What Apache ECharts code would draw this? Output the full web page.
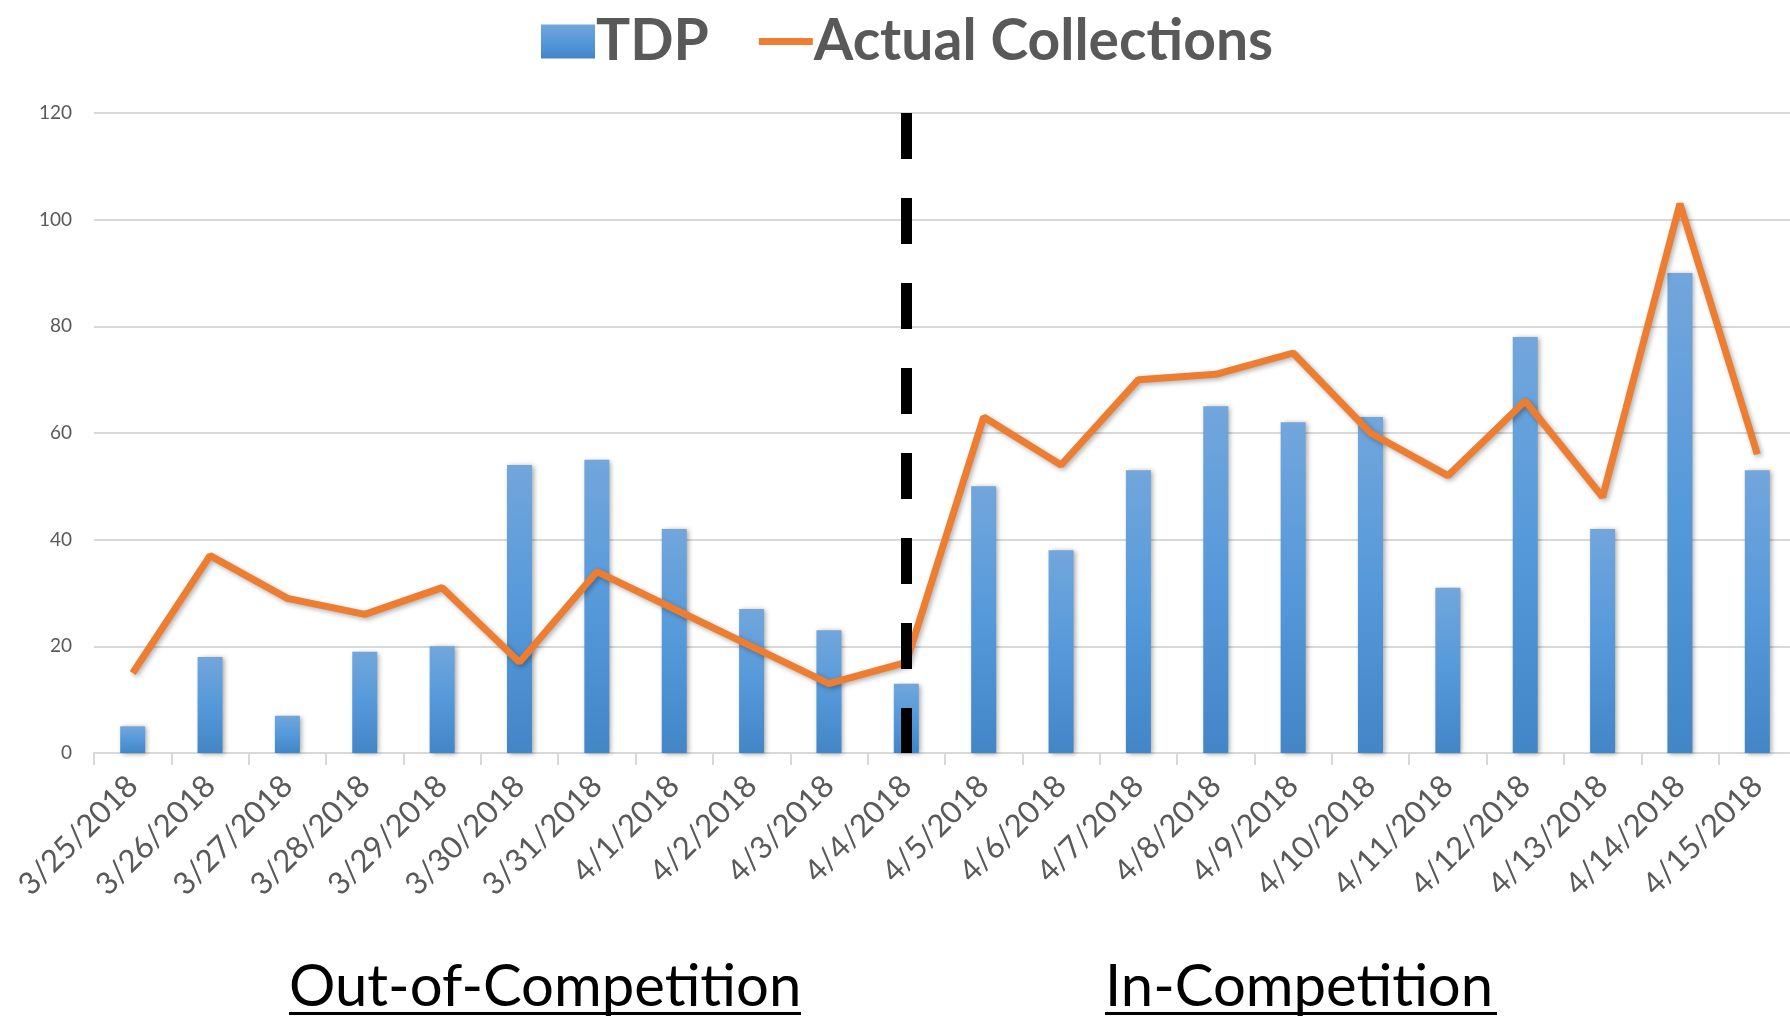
<!DOCTYPE html>
<html>
<head>
<meta charset="utf-8">
<script src="https://cdn.jsdelivr.net/npm/echarts@6/dist/echarts.min.js"></script>
<style>
  html, body { margin: 0; padding: 0; background: #fff; }
  #chart { width: 1790px; height: 1016px; }
</style>
</head>
<body>
<div id="chart"></div>
<script>
// categories (dates)
const dates = [
  '3/25/2018', '3/26/2018', '3/27/2018', '3/28/2018', '3/29/2018', '3/30/2018',
  '3/31/2018', '4/1/2018', '4/2/2018', '4/3/2018', '4/4/2018', '4/5/2018',
  '4/6/2018', '4/7/2018', '4/8/2018', '4/9/2018', '4/10/2018', '4/11/2018',
  '4/12/2018', '4/13/2018', '4/14/2018', '4/15/2018'
];

// TDP bars
const tdp = [5, 18, 7, 19, 20, 54, 55, 42, 27, 23, 13, 50, 38, 53, 65, 62, 63, 31, 78, 42, 90, 53];

// actual collections line
const actual = [15, 37, 29, 26, 31, 17, 34, 27, 20, 13, 17, 63, 54, 70, 71, 75, 60, 52, 66, 48, 103, 56];

// y axis ticks
const yTicks = [0, 20, 40, 60, 80, 100, 120];

// where the phase changes
const splitDate = '4/4/2018';
const phaseLabels = ['Out-of-Competition', 'In-Competition'];

const chart = echarts.init(document.getElementById('chart'));

chart.setOption({
  backgroundColor: '#ffffff',
  animation: false,
  legend: {
    left: 536,
    top: 8,
    itemWidth: 54,
    itemHeight: 34,
    itemGap: 50,
    symbolKeepAspect: true,
    textStyle: {
      fontFamily: 'Lato',
      fontWeight: 'bold',
      fontSize: 57,
      color: '#595959',
      padding: [0, 0, 0, -4]
    },
    data: [
      { name: 'TDP', icon: 'rect' },
      { name: 'Actual Collections', icon: 'path://M0,0H54V7H0Z' }
    ]
  },
  grid: {
    left: 94, top: 113, width: 1702, bottom: 263,
    containLabel: false,
    outerBoundsMode: 'none'
  },
  xAxis: {
    type: 'category',
    data: dates,
    boundaryGap: true,
    axisLine: { lineStyle: { color: '#d9d9d9', width: 2 } },
    axisTick: { show: true, length: 12, lineStyle: { color: '#d9d9d9', width: 2 } },
    axisLabel: {
      rotate: 45,
      interval: 0,
      margin: 28,
      fontFamily: 'Lato',
      fontSize: 31,
      color: '#595959'
    }
  },
  yAxis: {
    type: 'value',
    min: yTicks[0],
    max: yTicks[yTicks.length - 1],
    interval: 20,
    axisLine: { show: false },
    axisTick: { show: false },
    axisLabel: {
      margin: 22,
      fontFamily: 'Lato',
      fontSize: 19,
      color: '#595959'
    },
    splitLine: { lineStyle: { color: '#d9d9d9', width: 2 } }
  },
  series: [
    {
      name: 'TDP',
      type: 'bar',
      data: tdp,
      barWidth: 25,
      itemStyle: {
        color: new echarts.graphic.LinearGradient(0, 0, 0, 1, [
          { offset: 0, color: '#72a6dc' },
          { offset: 0.5, color: '#5599da' },
          { offset: 1, color: '#4286c8' }
        ]),
        shadowBlur: 5,
        shadowColor: 'rgba(0,0,0,0.35)',
        shadowOffsetX: 2,
        shadowOffsetY: 1
      }
    },
    {
      name: 'Actual Collections',
      type: 'line',
      data: actual,
      symbol: 'none',
      color: '#ed7d31',
      lineStyle: {
        color: '#ed7d31',
        width: 7,
        shadowBlur: 5,
        shadowColor: 'rgba(0,0,0,0.3)',
        shadowOffsetX: 2,
        shadowOffsetY: 2
      },
      z: 3,
      markLine: {
        silent: true,
        symbol: 'none',
        z: 10,
        label: { show: false },
        lineStyle: { color: '#000', width: 11, type: [46, 39] },
        data: [[
          { coord: [splitDate, yTicks[yTicks.length - 1]] },
          { coord: [splitDate, yTicks[0]] }
        ]]
      }
    }
  ],
  graphic: [
    {
      type: 'text', left: 289, top: 958,
      style: { text: phaseLabels[0], fontFamily: 'Lato', fontSize: 58, fill: '#000' }
    },
    {
      type: 'text', left: 1105, top: 958,
      style: { text: phaseLabels[1], fontFamily: 'Lato', fontSize: 58, fill: '#000' }
    },
    {
      type: 'rect', left: 289, top: 1012, shape: { width: 512, height: 3 },
      style: { fill: '#000' }
    },
    {
      type: 'rect', left: 1105, top: 1012, shape: { width: 392, height: 3 },
      style: { fill: '#000' }
    }
  ]
});
</script>
</body>
</html>
